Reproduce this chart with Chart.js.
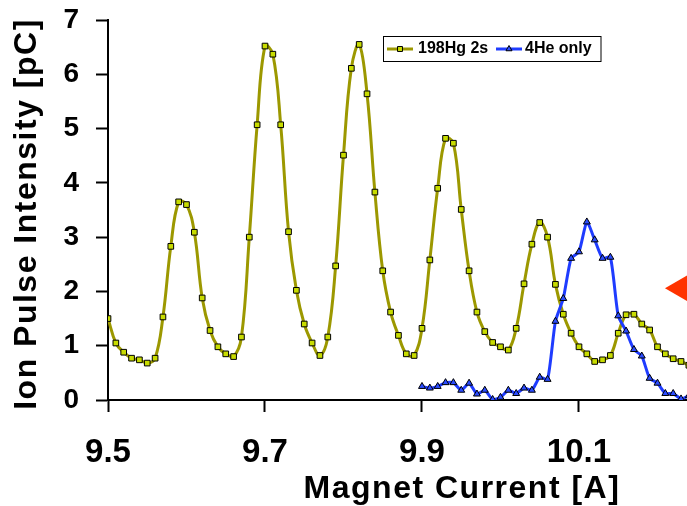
<!DOCTYPE html>
<html>
<head>
<meta charset="utf-8">
<script src="https://cdn.jsdelivr.net/npm/chart.js@4.4.1/dist/chart.umd.min.js"></script>
<style>
  html, body { margin: 0; padding: 0; background: #fff; overflow: hidden; }
  #wrap { position: relative; width: 687px; height: 506px; }
</style>
</head>
<body>
<div id="wrap"><canvas id="scan" width="687" height="506"></canvas></div>
<script>
// magnet current steps (A) and measured intensities (pC)
const hgCurrent = [
    9.50, 9.51, 9.52, 9.53, 9.54, 9.55, 9.56, 9.57, 9.58, 9.59,
    9.60, 9.61, 9.62, 9.63, 9.64, 9.65, 9.66, 9.67, 9.68, 9.69,
    9.70, 9.71, 9.72, 9.73, 9.74, 9.75, 9.76, 9.77, 9.78, 9.79,
    9.80, 9.81, 9.82, 9.83, 9.84, 9.85, 9.86, 9.87, 9.88, 9.89,
    9.90, 9.91, 9.92, 9.93, 9.94, 9.95, 9.96, 9.97, 9.98, 9.99,
    10.00, 10.01, 10.02, 10.03, 10.04, 10.05, 10.06, 10.07, 10.08, 10.09,
    10.10, 10.11, 10.12, 10.13, 10.14, 10.15, 10.16, 10.17, 10.18, 10.19,
    10.20, 10.21, 10.22, 10.23, 10.24
];
const hgIntensity = [
    1.50, 1.05, 0.88, 0.77, 0.74, 0.68, 0.77, 1.53, 2.83, 3.65,
    3.60, 3.09, 1.88, 1.28, 0.98, 0.85, 0.80, 1.16, 3.00, 5.07,
    6.52, 6.37, 5.07, 3.10, 2.02, 1.40, 1.05, 0.82, 1.16, 2.47,
    4.51, 6.11, 6.55, 5.64, 3.83, 2.38, 1.62, 1.19, 0.85, 0.82,
    1.32, 2.58, 3.90, 4.82, 4.73, 3.51, 2.38, 1.62, 1.26, 1.06,
    0.98, 0.92, 1.32, 2.14, 2.87, 3.27, 3.00, 2.13, 1.58, 1.23,
    0.98, 0.85, 0.71, 0.74, 0.82, 1.23, 1.57, 1.58, 1.40, 1.29,
    0.98, 0.85, 0.76, 0.71, 0.64
];
const heCurrent = [
    9.90, 9.91, 9.92, 9.93, 9.94, 9.95, 9.96, 9.97, 9.98, 9.99,
    10.00, 10.01, 10.02, 10.03, 10.04, 10.05, 10.06, 10.07, 10.08, 10.09,
    10.10, 10.11, 10.12, 10.13, 10.14, 10.15, 10.16, 10.17, 10.18, 10.19,
    10.20, 10.21, 10.22, 10.23, 10.24
];
const heIntensity = [
    0.25, 0.22, 0.25, 0.32, 0.32, 0.18, 0.31, 0.11, 0.18, 0.01,
    0.05, 0.18, 0.12, 0.22, 0.18, 0.42, 0.38, 1.45, 1.87, 2.61,
    2.73, 3.28, 2.95, 2.61, 2.63, 1.55, 1.27, 0.93, 0.81, 0.40,
    0.31, 0.12, 0.12, 0.02, 0.08
];
// red pointer on the right edge
const pointerCurrent = [10.235];
const pointerIntensity = [2.06];

const xTicks = [9.5, 9.7, 9.9, 10.1];
const yTicks = [0, 1, 2, 3, 4, 5, 6, 7];
const seriesLabels = ["198Hg 2s", "4He only"];
const xTitle = "Magnet Current [A]";
const yTitle = "Ion Pulse Intensity [pC]";

const FONT = '"Liberation Sans", Arial, sans-serif';

const toPoints = (xs, ys) => xs.map((x, i) => ({ x, y: ys[i] }));

const axisTitles = {
    id: 'axisTitles',
    afterDraw(chart) {
        const ctx = chart.ctx;
        ctx.save();
        ctx.fillStyle = '#000';
        ctx.font = `bold 32px ${FONT}`;
        ctx.letterSpacing = '1.5px';
        ctx.textAlign = 'center';
        ctx.textBaseline = 'alphabetic';
        ctx.fillText(xTitle, 462, 498);
        ctx.translate(36, 214);
        ctx.rotate(-Math.PI / 2);
        ctx.fillText(yTitle, 0, 0);
        ctx.restore();
    }
};

const boxLegend = {
    id: 'boxLegend',
    afterDraw(chart) {
        const ctx = chart.ctx;
        ctx.save();
        ctx.fillStyle = '#fff';
        ctx.fillRect(383.5, 36.5, 217.5, 25);
        ctx.strokeStyle = '#000';
        ctx.lineWidth = 1;
        ctx.strokeRect(383.5, 36.5, 217.5, 25);
        const items = [{ ds: 0, x: 387, tx: 418 }, { ds: 1, x: 496, tx: 525 }];
        items.forEach(it => {
            const ds = chart.data.datasets[it.ds];
            ctx.strokeStyle = ds.borderColor;
            ctx.lineWidth = 3;
            ctx.beginPath();
            ctx.moveTo(it.x, 49);
            ctx.lineTo(it.x + 26, 49);
            ctx.stroke();
            ctx.fillStyle = ds.pointBackgroundColor;
            ctx.strokeStyle = '#000';
            ctx.lineWidth = 1;
            Chart.helpers.drawPoint(ctx, { pointStyle: ds.pointStyle, radius: 3.5, borderWidth: 1, rotation: 0 }, it.x + 13, 49);
            ctx.fillStyle = '#000';
            ctx.font = `bold 16px ${FONT}`;
            ctx.textAlign = 'left';
            ctx.textBaseline = 'middle';
            ctx.fillText(ds.label, it.tx, 49);
        });
        ctx.restore();
    }
};

const axisGrid = { drawOnChartArea: false, tickLength: 12, tickWidth: 2, tickColor: '#000' };
const axisBorder = { color: '#000', width: 2 };

new Chart(document.getElementById('scan'), {
    type: 'line',
    data: {
        datasets: [{
            label: seriesLabels[0],
            data: toPoints(hgCurrent, hgIntensity),
            borderColor: '#9c9800',
            borderWidth: 3,
            pointStyle: 'rect',
            pointRadius: 4,
            pointBackgroundColor: '#c8dc00',
            pointBorderColor: '#000',
            pointBorderWidth: 1,
            tension: 0.4,
            order: 2
        }, {
            label: seriesLabels[1],
            data: toPoints(heCurrent, heIntensity),
            borderColor: '#1f3cff',
            borderWidth: 3,
            pointStyle: 'triangle',
            pointRadius: 4,
            pointBackgroundColor: '#2b4cff',
            pointBorderColor: '#000',
            pointBorderWidth: 1,
            tension: 0.2,
            order: 1
        }, {
            label: 'pointer',
            data: toPoints(pointerCurrent, pointerIntensity),
            showLine: false,
            pointStyle: 'triangle',
            pointRotation: -90,
            pointRadius: 20,
            pointBackgroundColor: '#ff3300',
            pointBorderWidth: 0,
            clip: false,
            order: 0
        }]
    },
    options: {
        responsive: false,
        animation: false,
        events: [],
        layout: { autoPadding: false, padding: { top: 20, right: 0, bottom: 0, left: 0 } },
        plugins: { legend: { display: false }, tooltip: { enabled: false } },
        scales: {
            x: {
                type: 'linear',
                min: 9.5,
                max: 10.2376,
                afterBuildTicks: axis => { axis.ticks = xTicks.map(v => ({ value: v })); },
                afterFit: axis => {
                    axis.height = 106;
                    axis.paddingLeft = 0;
                    axis.paddingRight = 0;
                },
                grid: axisGrid,
                border: axisBorder,
                ticks: {
                    color: '#000',
                    font: { family: FONT, size: 33, weight: 'bold', lineHeight: 1 },
                    padding: 24,
                    maxRotation: 0,
                    autoSkip: false,
                    callback: v => v.toFixed(1)
                }
            },
            y: {
                min: 0,
                max: 7,
                afterBuildTicks: axis => { axis.ticks = yTicks.map(v => ({ value: v })); },
                afterFit: axis => {
                    axis.width = 108;
                    axis.paddingTop = 0;
                    axis.paddingBottom = 0;
                },
                grid: axisGrid,
                border: axisBorder,
                ticks: {
                    color: '#000',
                    font: { family: FONT, size: 28, weight: 'bold', lineHeight: 1 },
                    padding: 17
                }
            }
        }
    },
    plugins: [axisTitles, boxLegend]
});
</script>
</body>
</html>
